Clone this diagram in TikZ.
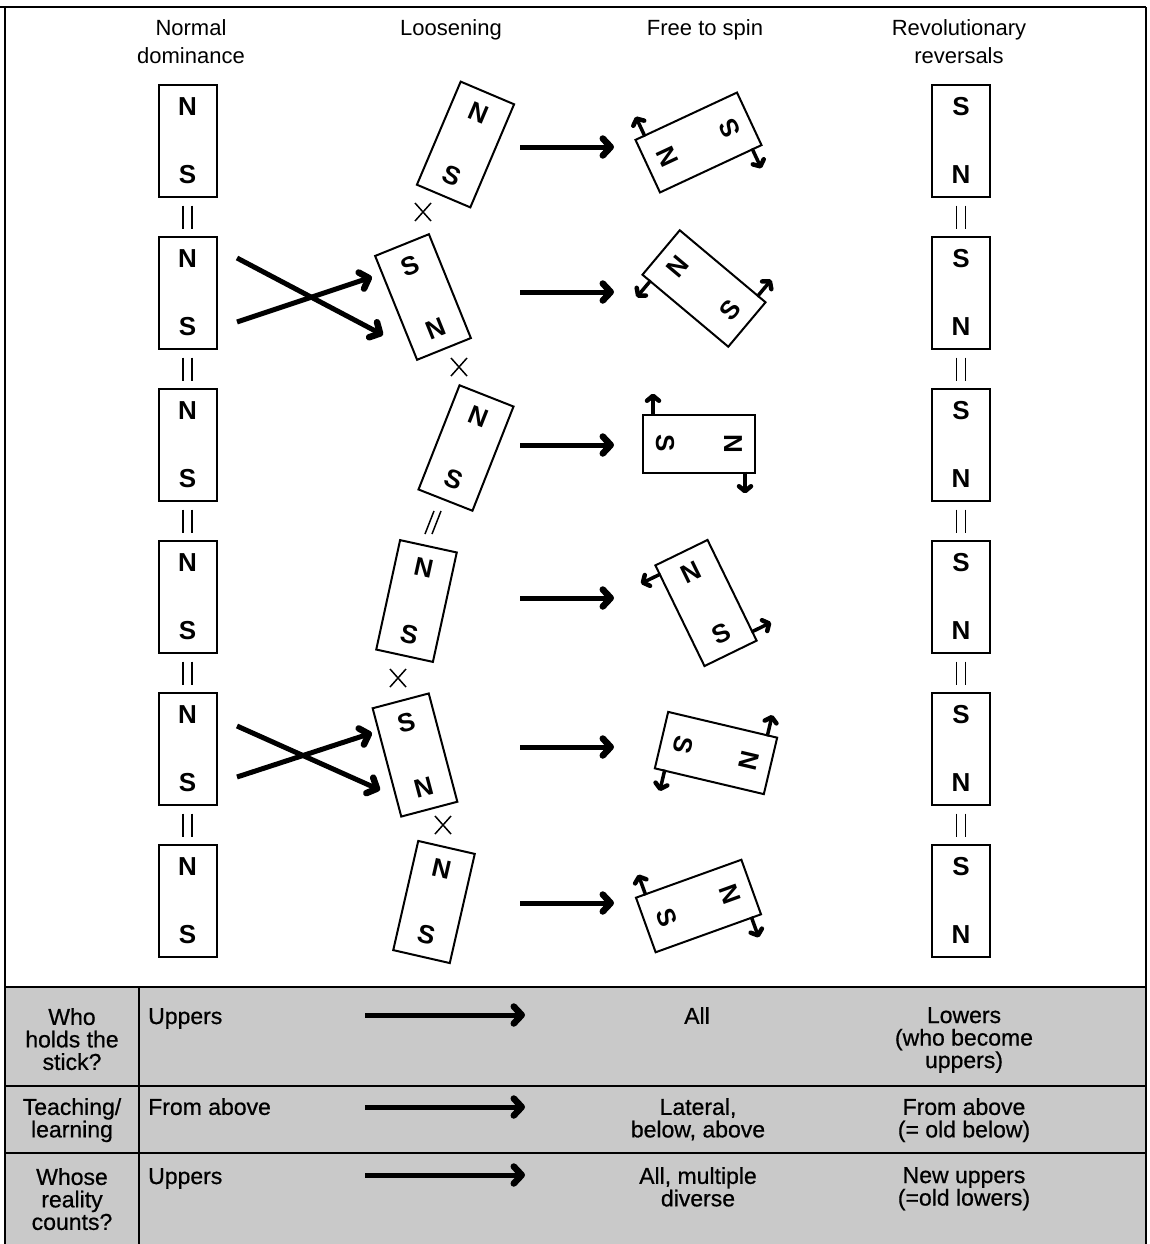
\documentclass[tikz,border=0pt]{standalone}
\usepackage{fontspec}
\setmainfont{Liberation Sans}
\newfontfamily\inkfont{Liberation Sans}[FakeBold=0.7]
\usetikzlibrary{arrows.meta}
\tikzset{
  magbox/.style={draw, line width=2pt, minimum width=58pt, minimum height=112pt, inner sep=0pt},
  pole/.style={font=\bfseries\fontsize{26}{26}\selectfont, inner sep=0pt},
  head/.style={font=\fontsize{22}{28}\selectfont, align=center, anchor=north, inner sep=0pt},
  cell/.style={font=\inkfont\fontsize{23}{22.5}\selectfont, align=center, anchor=north, inner sep=0pt},
  cellL/.style={font=\inkfont\fontsize{23}{22.5}\selectfont, align=left, anchor=north west, inner sep=0pt},
  bigarrow/.style={line width=5pt, -{Straight Barb[length=8pt,width=17pt,line width=6.5pt,round]}},
  spinarr/.style={line width=3.5pt, -{Straight Barb[length=5pt,width=12pt,line width=4.5pt,round]}},
  thin/.style={line width=1.5pt},
  frame/.style={line width=2pt},
}
\newcommand\magnet[6]{%
  \begin{scope}[shift={(#2,#3)}, rotate=#4, transform shape]
    \node[magbox] (#1) at (0,0) {};
    \node[pole] (#1t) at (0,-34) {#5};
    \node[pole] (#1b) at (0,34) {#6};
  \end{scope}}
\newcommand\spin[5]{%
  \begin{scope}[shift={(#1,#2)}, rotate=#3]
    \draw[spinarr] (-28,#4) -- (-50,#4);
    \draw[spinarr] (28,#5) -- (50,#5);
  \end{scope}}
\newcommand\cross[3]{%
  \coordinate (#1) at (#2,#3);
  \draw[thin] ([shift={(-8,-9)}]#1) -- ([shift={(8,9)}]#1);
  \draw[thin] ([shift={(8,-9)}]#1) -- ([shift={(-8,9)}]#1);}
\newcommand\eqs[3]{%
  \coordinate (#1) at (#2,#3);
  \draw[thin] ([shift={(-4.5,-11.5)}]#1) -- ([shift={(-4.5,11.5)}]#1);
  \draw[thin] ([shift={(4.5,-11.5)}]#1) -- ([shift={(4.5,11.5)}]#1);}
\begin{document}
\begin{tikzpicture}[x=1pt,y=-1pt]
\useasboundingbox (0,0) rectangle (1150,1244);
% table background
\fill[black!21] (5,987) rectangle (1146,1260);
\draw[frame] (0,7) -- (1146,7);
\draw[frame] (5,7) -- (5,1260);
\draw[frame] (1146,7) -- (1146,1260);
\draw[frame] (5,987) -- (1146,987);
\draw[frame] (5,1086) -- (1146,1086);
\draw[frame] (5,1153) -- (1146,1153);
\draw[frame] (138.5,987) -- (138.5,1260);

% headers
\node[head] (hA) at (191,19) {Normal\\dominance};
\node[head] (hB) at (451,19) {Loosening};
\node[head] (hC) at (705,19) {Free to spin};
\node[head] (hD) at (959,19) {Revolutionary\\reversals};

% column 1 and column 4
\foreach \i/\y in {1/141,2/293,3/445,4/597,5/749,6/901}{
  \magnet{a\i}{187.5}{\y}{0}{N}{S}
  \magnet{d\i}{961}{\y}{0}{S}{N}
}
\foreach \i/\y in {1/217,2/369,3/521,4/673,5/825}{
  \eqs{ea\i}{187.5}{\y}
  \eqs{ed\i}{961}{\y}
}

% column 2
\magnet{b1}{465.5}{144.5}{-23}{N}{S}
\magnet{b2}{423}{297}{22}{S}{N}
\magnet{b3}{466}{448}{-21.5}{N}{S}
\magnet{b4}{416.5}{601}{-12.3}{N}{S}
\magnet{b5}{415}{755}{14.8}{S}{N}
\magnet{b6}{434}{902}{-12.9}{N}{S}
\cross{x1}{423}{212}
\cross{x2}{459}{367}
\cross{x3}{398}{678}
\cross{x4}{443}{825}
\coordinate (sl) at (433,522);
\draw[thin] ([shift={(-8,12)}]sl) -- ([shift={(1,-11)}]sl);
\draw[thin] ([shift={(-1,12)}]sl) -- ([shift={(8,-11)}]sl);

% column 3
\magnet{c1}{698.5}{142.5}{115}{N}{S}
\magnet{c2}{704}{288.5}{50}{N}{S}
\magnet{c3}{699}{443.5}{-90}{N}{S}
\magnet{c4}{706}{603}{26}{N}{S}
\magnet{c5}{716}{753}{-103.3}{N}{S}
\magnet{c6}{698.5}{906}{-70.2}{N}{S}
\spin{698.5}{142.5}{115}{46}{-46}
\spin{704}{288.5}{50}{-46}{46}
\spin{699}{443.5}{-90}{46}{-46}
\spin{706}{603}{26}{-46}{46}
\spin{716}{753}{-103.3}{-46}{46}
\spin{698.5}{906}{-70.2}{46}{-46}

% crossing arrows
\coordinate (p1s) at (237,258); \coordinate (p1e) at (383,335);
\coordinate (p2s) at (237,322); \coordinate (p2e) at (372,277);
\coordinate (p3s) at (237,726); \coordinate (p3e) at (380,790);
\coordinate (p4s) at (237,777); \coordinate (p4e) at (372,733);
\draw[bigarrow] (p1s) -- (p1e);
\draw[bigarrow] (p2s) -- (p2e);
\draw[bigarrow] (p3s) -- (p3e);
\draw[bigarrow] (p4s) -- (p4e);

% horizontal arrows
\foreach \i/\y in {1/147,2/292,3/445,4/598,5/747,6/903}{
  \coordinate (hs\i) at (520,\y);
  \coordinate (he\i) at (614,\y);
  \draw[bigarrow] (hs\i) -- (he\i);
}

% table
\node[cell] (t11) at (72,1008) {Who\\holds the\\stick?};
\node[cellL] (t12) at (148,1008) {Uppers};
\node[cell] (t13) at (697,1007) {All};
\node[cell] (t14) at (964,1007) {Lowers\\(who become\\uppers)};
\node[cell] (t21) at (72,1098) {Teaching/\\learning};
\node[cellL] (t22) at (148,1098) {From above};
\node[cell] (t23) at (698,1098) {Lateral,\\below, above};
\node[cell] (t24) at (964,1098) {From above\\(= old below)};
\node[cell] (t31) at (72,1168) {Whose\\reality\\counts?};
\node[cellL] (t32) at (148,1168) {Uppers};
\node[cell] (t33) at (698,1167) {All, multiple\\diverse};
\node[cell] (t34) at (964,1167) {New uppers\\(=old lowers)};
\foreach \i/\y in {1/1015,2/1107,3/1175}{
  \coordinate (ts\i) at (365,\y);
  \coordinate (te\i) at (525,\y);
  \draw[bigarrow] (ts\i) -- (te\i);
}
\end{tikzpicture}
\end{document}
